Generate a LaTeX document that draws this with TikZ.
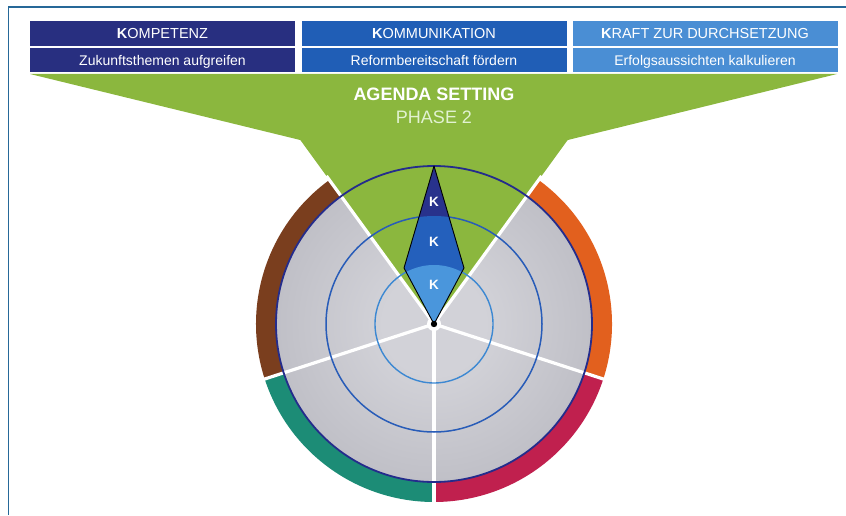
\documentclass[tikz,border=0pt]{standalone}
\usepackage{fontspec}
\setmainfont{Liberation Sans}
\definecolor{navyK}{RGB}{40,47,128}
\definecolor{blueK}{RGB}{32,94,182}
\definecolor{lightK}{RGB}{74,142,212}
\definecolor{funnel}{RGB}{139,183,62}
\definecolor{phasec}{RGB}{226,242,210}
\definecolor{frameblue}{RGB}{38,104,152}
\definecolor{discin}{RGB}{210,210,216}
\definecolor{discout}{RGB}{180,180,188}
\definecolor{ringbrown}{RGB}{122,62,30}
\definecolor{ringorange}{RGB}{226,96,30}
\definecolor{ringteal}{RGB}{28,140,118}
\definecolor{ringred}{RGB}{192,32,78}
\definecolor{circouter}{RGB}{36,44,140}
\definecolor{circmid}{RGB}{40,92,184}
\definecolor{circin}{RGB}{60,136,210}
\definecolor{diaA}{RGB}{40,50,140}
\definecolor{diaB}{RGB}{36,96,188}
\definecolor{diaC}{RGB}{74,150,220}
\pgfdeclareradialshading{discshade}{\pgfpoint{0bp}{0bp}}{color(0bp)=(discin); color(8bp)=(discin); color(36bp)=(discout); color(50bp)=(discout)}
\begin{document}
\begin{tikzpicture}[x=1pt,y=1pt,
  headbox/.style={minimum width=265pt, minimum height=25pt, inner sep=0pt,
    text=white, text height=10.4pt, text depth=0pt,
    font=\fontsize{14.5}{17}\selectfont},
  subbox/.style={headbox, minimum height=24pt, font=\fontsize{14}{17}\selectfont},
  sepline/.style={white, line width=3.2pt},
  ktext/.style={text=white, inner sep=0pt, text height=9.5pt, text depth=0pt,
    font=\fontsize{13.5}{15}\selectfont\bfseries},
  bigtext/.style={inner sep=0pt, text height=13pt, text depth=0pt,
    font=\fontsize{18}{21}\selectfont}]
\useasboundingbox (0,0) rectangle (846,515);

% frame
\draw[frameblue, line width=1.6pt] (8.5,0) -- (8.5,508) -- (846,508);

% header columns
\node[headbox, fill=navyK]  (h1) at (162.5,481.5) {\textbf{K}OMPETENZ};
\node[subbox,  fill=navyK]  (s1) at (162.5,455)   {Zukunftsthemen aufgreifen};
\node[headbox, fill=blueK]  (h2) at (434,481.5)   {\textbf{K}OMMUNIKATION};
\node[subbox,  fill=blueK]  (s2) at (434,455)     {Reformbereitschaft fördern};
\node[headbox, fill=lightK] (h3) at (705,481.5)   {\textbf{K}RAFT ZUR DURCHSETZUNG};
\node[subbox,  fill=lightK] (s3) at (705,455)     {Erfolgsaussichten kalkulieren};

\begin{scope}[shift={(434,191)}]
  % coloured outer ring
  \fill[ringbrown]  (126:178) arc[start angle=126,end angle=198,radius=178] -- (198:150) arc[start angle=198,end angle=126,radius=150] -- cycle;
  \fill[ringteal]   (198:178) arc[start angle=198,end angle=270,radius=178] -- (270:150) arc[start angle=270,end angle=198,radius=150] -- cycle;
  \fill[ringred]    (270:178) arc[start angle=270,end angle=342,radius=178] -- (342:150) arc[start angle=342,end angle=270,radius=150] -- cycle;
  \fill[ringorange] (342:178) arc[start angle=342,end angle=414,radius=178] -- (414:150) arc[start angle=414,end angle=342,radius=150] -- cycle;

  % grey disc
  \shade[shading=discshade] (0,0) circle[radius=158];

  % green funnel and sector
  \fill[funnel] (0,0) -- (126:227.4) -- (-404,250) -- (403,250) -- (54:227.4) -- cycle;

  % sector separators
  \foreach \a in {54,126,198,270,342}
    \draw[sepline] (0,0) -- (\a:183);
  \fill[white] (0,0) circle[radius=7];

  % concentric circles
  \draw[circouter, line width=1.8pt] (0,0) circle[radius=158];
  \draw[circmid, line width=1.5pt] (0,0) circle[radius=108];
  \draw[circin, line width=1.4pt] (0,0) circle[radius=59];

  % compass diamond
  \coordinate (dt) at (90:158);
  \coordinate (dr) at (30,56);
  \coordinate (db) at (0,0);
  \coordinate (dl) at (-30,56);
  \begin{scope}
    \clip (dt) -- (dr) -- (db) -- (dl) -- cycle;
    \fill[diaA] (-40,-5) rectangle (40,170);
    \fill[diaB] (0,0) circle[radius=108];
    \fill[diaC] (0,0) circle[radius=59];
  \end{scope}
  \draw[black, line width=0.9pt, line join=round] (dt) -- (dr) -- (db) -- (dl) -- cycle;
  \fill[black] (0,0) circle[radius=3.2];

  \node[ktext] (k1) at (0,122.3) {K};
  \node[ktext] (k2) at (0,82.3) {K};
  \node[ktext] (k3) at (0,39) {K};
\end{scope}

% phase title
\node[bigtext, text=white, font=\fontsize{18}{21}\selectfont\bfseries] (ag) at (434,421) {AGENDA SETTING};
\node[bigtext, text=phasec] (ph) at (434,398.3) {PHASE 2};
\end{tikzpicture}
\end{document}
